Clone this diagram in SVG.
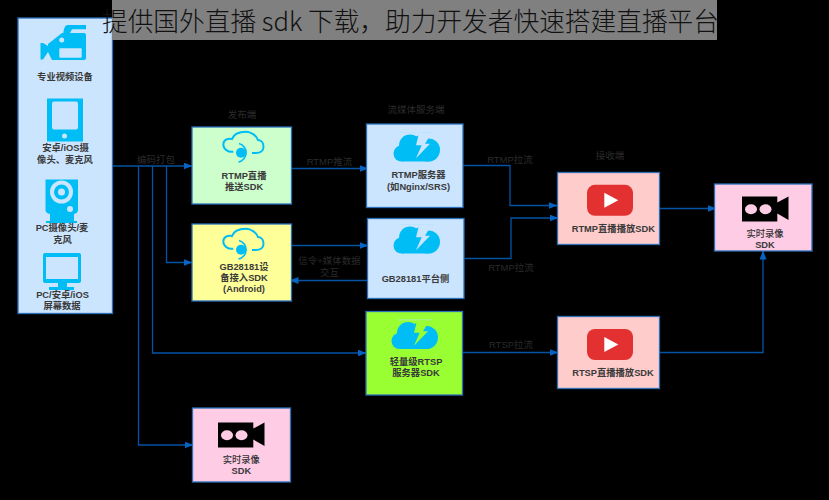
<svg xmlns="http://www.w3.org/2000/svg" width="829" height="500" viewBox="0 0 829 500">
<style>
text{font-family:"Liberation Sans","Noto Sans CJK SC",sans-serif;text-anchor:middle;fill:#333;font-size:9.3px}
.b{font-weight:700;fill:#3a3a3a}
.r{font-weight:500}
.l{fill:#2b2b2b;font-size:9.5px}
.box{stroke:#2a6fb8;stroke-width:1.3}
.c{fill:none;stroke:#0553a5;stroke-width:1.3}
.ic{fill:#00bef5}
</style>
<defs>
<marker id="a" markerWidth="9" markerHeight="7" refX="8.500" refY="3.500" orient="auto" markerUnits="userSpaceOnUse"><path d="M0 0L9 3.500L0 7Z" fill="#0563c1"/></marker>
<g id="cloudhead"><path d="M-11.700 1.700C-17 2.500-21.700-1-21.700-5.500C-21.700-10-17-12-13-11C-11-17-4-18.300 1-18.300C6-18.300 12-14 13-10C17-10 18.500-6 18.500-3C18.500 1 15 3 11 3H7" fill="none" stroke="#00bef5" stroke-width="2"/><circle cx="-4" cy="2.700" r="5" fill="#00bef5"/><path d="M-6-6.500A9.500 9.500 0 0 1-6.500 12" fill="none" stroke="#00bef5" stroke-width="1.700"/></g>
<g id="cloudbolt"><path d="M-16-14.700H17.300" stroke="#aee4fa" stroke-width=".6"/><circle cx="-14.500" cy="6.500" r="8" fill="#00bef5"/><circle cx="-6" cy="-1.500" r="11" fill="#00bef5"/><circle cx="5" cy="-3" r="9" fill="#00bef5"/><circle cx="12.500" cy="3" r="11.500" fill="#00bef5"/><rect x="-14.500" y="5" width="27" height="9.500" fill="#00bef5"/><path d="M3-13.700H15.500L9-3.300H14L0 11.300L5.700-1.700H0Z"/></g>
<g id="yt"><rect x="-23" y="-15.500" width="46" height="31" rx="8" fill="#e33030"/><path d="M-5.700-7.500L8.300 0L-5.700 7.500Z" fill="#fff"/></g>
<g id="cam"><path d="M-23.500-12.500H11.800V-6.500L23-12.500V11L11.800 4.500V12.500H-23.500Z" fill="#000"/><ellipse cx="-14.500" cy=".3" rx="6" ry="5" fill="#ffcce6"/><ellipse cx="0" cy=".3" rx="6" ry="5" fill="#ffcce6"/></g>
</defs>
<rect width="829" height="500" fill="#000"/>
<g id="connectors">
<path class="c" d="M113 166H192" marker-end="url(#a)"/>
<path class="c" d="M166.500 166V262.500H192" marker-end="url(#a)"/>
<path class="c" d="M152.500 166V353H366" marker-end="url(#a)"/>
<path class="c" d="M138.500 166V445H193" marker-end="url(#a)"/>
<path class="c" d="M291 168.500H368" marker-end="url(#a)"/>
<path class="c" d="M291 245.500H368" marker-end="url(#a)"/>
<path class="c" d="M367 280.500H290" marker-end="url(#a)"/>
<path class="c" d="M463 165.500H510V205.500H557" marker-end="url(#a)"/>
<path class="c" d="M465 258.500H511V218H558" marker-end="url(#a)"/>
<path class="c" d="M463 352.500H558" marker-end="url(#a)"/>
<path class="c" d="M659 208.500H716" marker-end="url(#a)"/>
<path class="c" d="M659 352.500H763V251" marker-end="url(#a)"/>
</g>
<g id="n-source"><rect class="box" x="18" y="18" width="94.500" height="295.500" fill="#cce5ff"/>
<path class="ic" d="M63.300 33C64 28 65 25 68 25H86V29.300H72L70 33H84Q86 33 86 35V58Q86 60 84 60H52L48 52L43 59.500H40.500V43H43L48 46V44L62 33Z"/><circle cx="61.700" cy="40" r="2.500" fill="#cce5ff"/><rect x="59.300" y="48.300" width="22.400" height="9.400" rx="1" fill="#cce5ff"/>
<rect class="ic" x="47" y="98.500" width="36" height="43"/><rect x="52" y="101.500" width="26" height="28" rx="2" fill="#cce5ff"/><circle cx="64.500" cy="136" r="2.500" fill="#cce5ff"/>
<path class="ic" d="M45.500 179.500H78V210Q78 213 74 214V221H77V223H46V221H50V214Q45.500 213 45.500 210Z"/><circle cx="61.500" cy="192" r="11.500" fill="#cce5ff"/><circle cx="61.500" cy="192" r="7.500" class="ic"/><circle cx="61.500" cy="192" r="3.500" fill="#cce5ff"/><circle cx="70" cy="209" r="3" fill="#cce5ff"/>
<rect class="ic" x="43" y="253" width="38" height="30" rx="2"/><rect x="46" y="257" width="32" height="22" fill="#cce5ff"/><path class="ic" d="M58 283H67V287H74V290H49V287H58Z"/>
<text x="65" y="80" class="b">专业视频设备</text>
<text x="65.500" y="151" class="b">安卓/iOS摄</text><text x="65" y="162.500" class="b">像头、麦克风</text>
<text x="62" y="231" class="b">PC摄像头/麦</text><text x="62.500" y="242.500" class="b">克风</text>
<text x="62.500" y="297.500" class="b">PC/安卓/iOS</text><text x="62" y="309" class="b">屏幕数据</text></g>
<g id="n-rtmp-push"><rect class="box" x="192" y="127" width="99.500" height="77" fill="#ccffcc"/><use href="#cloudhead" x="245" y="150"/><text x="244" y="178.500" class="b">RTMP直播</text><text x="244" y="189.500" class="b">推送SDK</text></g>
<g id="n-gb-device"><rect class="box" x="192" y="224" width="99.500" height="77" fill="#ffff99"/><use href="#cloudhead" x="245" y="247"/><text x="244" y="270" class="b">GB28181设</text><text x="244" y="281" class="b">备接入SDK</text><text x="244" y="292" class="b">(Android)</text></g>
<g id="n-rtmp-server"><rect class="box" x="366.500" y="124" width="96.500" height="83.500" fill="#cce5ff"/><use href="#cloudbolt" x="416" y="147" fill="#cce5ff"/><text x="418.500" y="178" class="b">RTMP服务器</text><text x="418.500" y="190" class="b">(如Nginx/SRS)</text></g>
<g id="n-gb-platform"><rect class="box" x="367.500" y="218.500" width="96.500" height="80" fill="#cce5ff"/><use href="#cloudbolt" x="416" y="239" fill="#cce5ff"/><text x="415.500" y="282" class="b">GB28181平台侧</text></g>
<g id="n-rtsp-server"><rect class="box" x="366" y="311.500" width="96.500" height="83.500" fill="#99ff33"/><use href="#cloudbolt" x="414" y="334.500" fill="#99ff33"/><text x="416" y="365" class="b">轻量级RTSP</text><text x="416" y="376" class="b">服务器SDK</text></g>
<g id="n-rtmp-play"><rect class="box" x="557.500" y="172.500" width="102" height="72" fill="#ffcccc"/><use href="#yt" x="610" y="200.300"/><text x="613.300" y="232" class="b">RTMP直播播放SDK</text></g>
<g id="n-rtsp-play"><rect class="box" x="557.500" y="316.500" width="102" height="72" fill="#ffcccc"/><use href="#yt" x="610" y="344.500"/><text x="613" y="376" class="b">RTSP直播播放SDK</text></g>
<g id="n-rec-right"><rect class="box" x="714.500" y="184" width="97.500" height="67" fill="#ffcce6"/><use href="#cam" x="765.500" y="209"/><text x="765" y="236.500" class="r">实时录像</text><text x="765" y="248" class="b">SDK</text></g>
<g id="n-rec-bottom"><rect class="box" x="192.500" y="408" width="98" height="74" fill="#ffcce6"/><use href="#cam" x="241.500" y="435"/><text x="241.300" y="462.500" class="r">实时录像</text><text x="241.300" y="474" class="b">SDK</text></g>
<g id="labels">
<text class="l" x="156" y="163">编码打包</text>
<text class="l" x="242" y="118">发布端</text>
<text class="l" x="416" y="113">流媒体服务端</text>
<text class="l" x="610" y="159">接收端</text>
<text class="l" x="329.500" y="165">RTMP推流</text>
<text class="l" x="510" y="163">RTMP拉流</text>
<text class="l" x="511" y="271">RTMP拉流</text>
<text class="l" x="511" y="348">RTSP拉流</text>
<text class="l" x="329.500" y="263.500">信令+媒体数据</text>
<text class="l" x="329.500" y="275.500">交互</text>
</g>
<g id="banner"><rect x="112" y="0" width="605" height="40" fill="#808080"/><text x="410.500" y="31" style="font-family:'Noto Sans CJK SC','Noto Sans',sans-serif;font-size:25.700px;font-weight:200;fill:#111">提供国外直播 sdk 下载，助力开发者快速搭建直播平台</text></g>
</svg>
